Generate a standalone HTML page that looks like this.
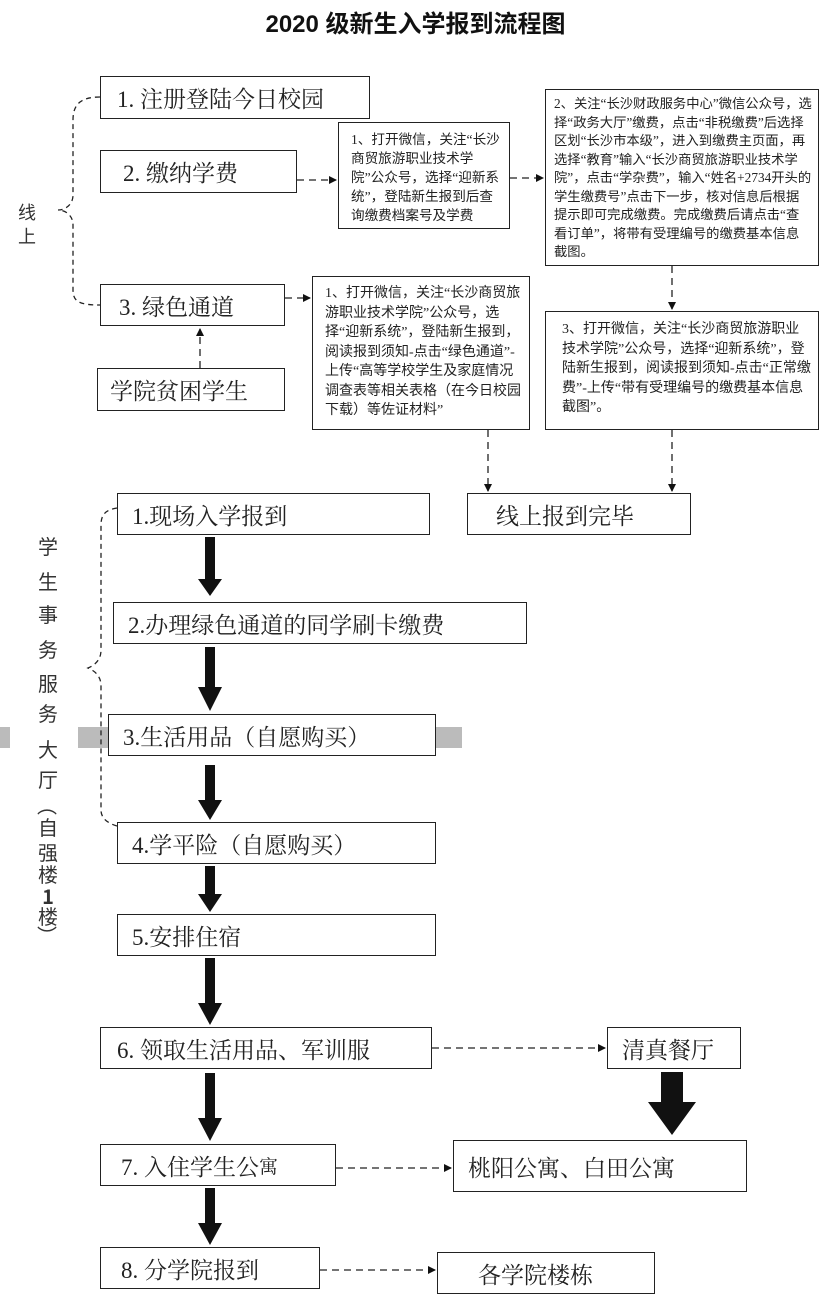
<!DOCTYPE html>
<html><head><meta charset="utf-8"><style>
*{margin:0;padding:0;box-sizing:border-box}
body{width:831px;height:1303px;background:#fff;position:relative;overflow:hidden;font-family:"Liberation Serif","Noto Serif CJK SC","Noto Sans CJK SC",serif;color:#222}
.b{position:absolute;border:1.5px solid #222;background:#fff;display:flex;align-items:center;font-size:23px;white-space:nowrap}
.t{position:absolute;border:1.5px solid #222;background:#fff;font-size:14px;line-height:19px;padding:5px 8px;font-family:"Liberation Serif","Noto Sans CJK SC",sans-serif;color:#222}
.v{position:absolute;left:37px;width:22px;text-align:center;font-size:20px;color:#333;font-family:"Noto Sans CJK SC",sans-serif}
svg{position:absolute;left:0;top:0}
</style></head><body>
<svg width="831" height="1303">
<defs><marker id="a" markerWidth="8" markerHeight="8" refX="7" refY="4" orient="auto" markerUnits="userSpaceOnUse"><path d="M0,0L8,4L0,8z" fill="#111"/></marker></defs>
<rect x="0" y="727" width="10" height="21" fill="#bbb"/>
<rect x="78" y="727" width="384" height="21" fill="#bbb"/>
<g stroke="#222" stroke-width="1.3" stroke-dasharray="7,5" fill="none">
<path d="M297,180H336" marker-end="url(#a)"/>
<path d="M510,178H543" marker-end="url(#a)"/>
<path d="M285,298H310" marker-end="url(#a)"/>
<path d="M200,368V329" marker-end="url(#a)"/>
<path d="M672,266V309" marker-end="url(#a)"/>
<path d="M488,430V491" marker-end="url(#a)"/>
<path d="M672,430V491" marker-end="url(#a)"/>
<path d="M432,1048H605" marker-end="url(#a)"/>
<path d="M336,1168H451" marker-end="url(#a)"/>
<path d="M320,1270H435" marker-end="url(#a)"/>
<path d="M100,97C80,97 73,105 73,120V195C73,205 65,210 58,210C65,210 73,215 73,225V290C73,302 80,305 100,305" stroke-dasharray="5,4"/>
<path d="M117,508C105,510 101,515 101,525V650C101,660 95,665 88,668C95,671 101,676 101,686V810C101,818 107,823 117,826" stroke-dasharray="5,4"/>
</g>
<g fill="#111">
<path d="M205,537h10v42h7l-12,17l-12,-17h7z"/>
<path d="M205,647h10v40h7l-12,24l-12,-24h7z"/>
<path d="M205,765h10v35h7l-12,20l-12,-20h7z"/>
<path d="M205,866h10v28h7l-12,18l-12,-18h7z"/>
<path d="M205,958h10v45h7l-12,22l-12,-22h7z"/>
<path d="M205,1073h10v45h7l-12,23l-12,-23h7z"/>
<path d="M205,1188h10v35h7l-12,22l-12,-22h7z"/>
<path d="M661,1072h22v30h13l-24,33l-24,-33h13z"/>
</g>
</svg>
<div style="position:absolute;left:0;width:831px;top:4px;text-align:center;font-size:24px;font-weight:bold;font-family:'Liberation Sans','Noto Sans CJK SC',sans-serif;color:#111">2020 级新生入学报到流程图</div>
<div style="position:absolute;left:18px;top:200px;font-size:18px;width:20px;line-height:24px;font-family:'Noto Sans CJK SC',sans-serif;color:#333">线<br>上</div>
<div class="b" style="left:100px;top:76px;width:270px;height:43px;padding-left:16px">1. 注册登陆今日校园</div>
<div class="b" style="left:100px;top:150px;width:197px;height:43px;padding-left:22px">2. 缴纳学费</div>
<div class="b" style="left:100px;top:284px;width:185px;height:42px;padding-left:18px">3. 绿色通道</div>
<div class="b" style="left:97px;top:368px;width:188px;height:43px;padding-left:12px">学院贫困学生</div>
<div class="t" style="left:338px;top:122px;width:172px;height:107px;padding:7px 4px 0 12px;line-height:19px;font-size:13.6px">1、打开微信，关注“长沙商贸旅游职业技术学院”公众号，选择“迎新系统”，登陆新生报到后查询缴费档案号及学费</div>
<div class="t" style="left:545px;top:89px;width:274px;height:177px;padding:5px 6px 0 8px;line-height:18.5px;font-size:13.3px">2、关注“长沙财政服务中心”微信公众号，选择“政务大厅”缴费，点击“非税缴费”后选择区划“长沙市本级”，进入到缴费主页面，再选择“教育”输入“长沙商贸旅游职业技术学院”，点击“学杂费”，输入“姓名+2734开头的学生缴费号”点击下一步，核对信息后根据提示即可完成缴费。完成缴费后请点击“查看订单”，将带有受理编号的缴费基本信息截图。</div>
<div class="t" style="left:312px;top:276px;width:218px;height:154px;padding:7px 4px 0 12px;line-height:19.5px">1、打开微信，关注“长沙商贸旅游职业技术学院”公众号，选择“迎新系统”，登陆新生报到，阅读报到须知-点击“绿色通道”-上传“高等学校学生及家庭情况调查表等相关表格（在今日校园下载）等佐证材料”</div>
<div class="t" style="left:545px;top:311px;width:274px;height:119px;padding:8px 6px 0 16px;line-height:19.5px">3、打开微信，关注“长沙商贸旅游职业技术学院”公众号，选择“迎新系统”，登陆新生报到，阅读报到须知-点击“正常缴费”-上传“带有受理编号的缴费基本信息截图”。</div>
<div class="b" style="left:467px;top:493px;width:224px;height:42px;padding-left:28px">线上报到完毕</div>
<div class="b" style="left:117px;top:493px;width:313px;height:42px;padding-left:14px">1.现场入学报到</div>
<div class="b" style="left:113px;top:602px;width:414px;height:42px;padding-left:14px">2.办理绿色通道的同学刷卡缴费</div>
<div class="b" style="left:108px;top:714px;width:328px;height:42px;padding-left:14px">3.生活用品（自愿购买）</div>
<div class="b" style="left:117px;top:822px;width:319px;height:42px;padding-left:14px">4.学平险（自愿购买）</div>
<div class="b" style="left:117px;top:914px;width:319px;height:42px;padding-left:14px">5.安排住宿</div>
<div class="b" style="left:100px;top:1027px;width:332px;height:42px;padding-left:16px">6. 领取生活用品、军训服</div>
<div class="b" style="left:607px;top:1027px;width:134px;height:42px;padding-left:14px">清真餐厅</div>
<div class="b" style="left:100px;top:1144px;width:236px;height:42px;padding-left:20px">7. 入住学生公<span style="font-size:19px">寓</span></div>
<div class="b" style="left:453px;top:1140px;width:294px;height:52px;padding-left:14px">桃阳公寓、白田公寓</div>
<div class="b" style="left:100px;top:1247px;width:220px;height:42px;padding-left:20px">8. 分学院报到</div>
<div class="b" style="left:437px;top:1252px;width:218px;height:42px;padding-left:40px">各学院楼栋</div>
<div class="v" style="top:531px">学</div><div class="v" style="top:566px">生</div><div class="v" style="top:599px">事</div><div class="v" style="top:634px">务</div><div class="v" style="top:668px">服</div><div class="v" style="top:698px">务</div><div class="v" style="top:734px">大</div><div class="v" style="top:764px">厅</div>
<div class="v" style="top:791px;transform:rotate(90deg)">（</div><div class="v" style="top:812px">自</div><div class="v" style="top:837px">强</div><div class="v" style="top:859px">楼</div><div class="v" style="top:881px;font-weight:bold">1</div><div class="v" style="top:901px">楼</div><div class="v" style="top:921px;transform:rotate(90deg)">）</div>
</body></html>
